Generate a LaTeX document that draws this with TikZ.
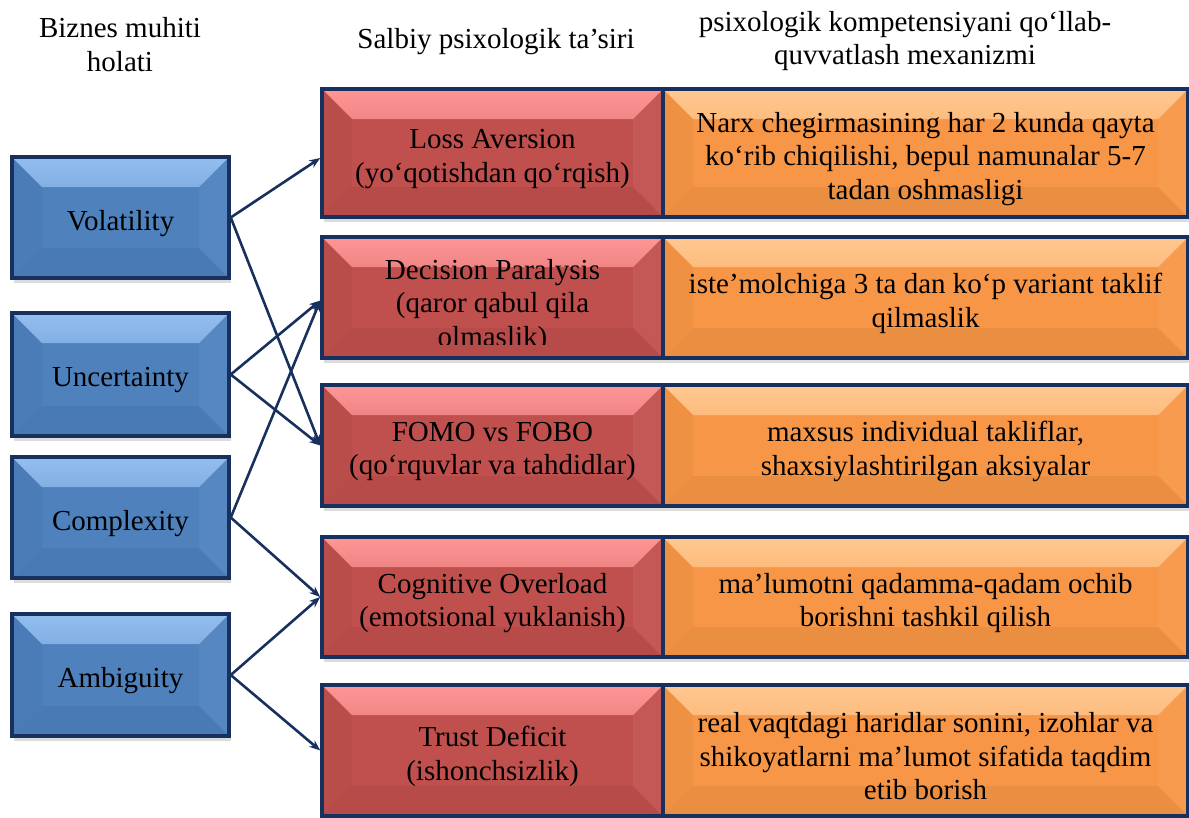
\documentclass[tikz,border=0pt]{standalone}
\usepackage{fontspec}
\setmainfont{Liberation Serif}
\usetikzlibrary{arrows.meta,shadows}
\definecolor{navy}{HTML}{17305E}
\definecolor{bluebase}{HTML}{4F81BD}
\definecolor{bluelight}{HTML}{93BEF0}
\definecolor{redbase}{HTML}{C0504D}
\definecolor{redlight}{HTML}{FF9696}
\definecolor{orbase}{HTML}{F79646}
\definecolor{orlight}{HTML}{FFC890}
\tikzset{
  every node/.style={font=\fontsize{29}{33.5}\selectfont, align=center, inner sep=0pt},
  bevelbox/.style 2 args={draw=navy, line width=3.5pt, fill=#1,
    drop shadow={opacity=.28, shadow xshift=2pt, shadow yshift=-5pt},
    path picture={
      \fill[top color=#2, middle color=#1!85!#2, bottom color=#1]
        (path picture bounding box.north west) -- (path picture bounding box.north east)
        -- ([shift={(-30pt,-30pt)}]path picture bounding box.north east)
        -- ([shift={(30pt,-30pt)}]path picture bounding box.north west) -- cycle;
      \fill[black, opacity=.05]
        (path picture bounding box.south west) -- (path picture bounding box.south east)
        -- ([shift={(-30pt,30pt)}]path picture bounding box.south east)
        -- ([shift={(30pt,30pt)}]path picture bounding box.south west) -- cycle;
      \fill[black, opacity=.03]
        (path picture bounding box.north west) -- ([shift={(30pt,-30pt)}]path picture bounding box.north west)
        -- ([shift={(30pt,30pt)}]path picture bounding box.south west) -- (path picture bounding box.south west) -- cycle;
      \fill[white, opacity=.05]
        (path picture bounding box.north east) -- ([shift={(-30pt,-30pt)}]path picture bounding box.north east)
        -- ([shift={(-30pt,30pt)}]path picture bounding box.south east) -- (path picture bounding box.south east) -- cycle;
    }},
  bluebox/.style={bevelbox={bluebase}{bluelight}, minimum width=217pt, minimum height=121pt},
  redbox/.style={bevelbox={redbase}{redlight}, minimum width=341pt},
  orbox/.style={bevelbox={orbase}{orlight}, minimum width=525pt},
  boxtext/.style={yshift=-6pt},
  link/.style={draw=navy, line width=2.6pt, -{Stealth[length=11pt,width=8.5pt]}},
  header/.style={}
}
\begin{document}
\begin{tikzpicture}[x=1pt,y=-1pt]
\useasboundingbox (0,0) rectangle (1189,817);

% headers
\node[header] (h1) at (120,44.5) {Biznes muhiti\\holati};
\node[header] (h2) at (496,42) {Salbiy psixologik ta’siri};
\node[header] (h3) at (905,41) {psixologik kompetensiyani qo‘llab-\\quvvatlash mexanizmi};

% left column
\node[bluebox] (vol) at (120.5,217.5) {};
\node[boxtext] (volt) at (vol) {Volatility};
\node[bluebox, minimum height=123pt] (unc) at (120.5,374.5) {};
\node[boxtext] (unct) at (unc) {Uncertainty};
\node[bluebox] (com) at (120.5,517.5) {};
\node[boxtext] (comt) at (com) {Complexity};
\node[bluebox, minimum height=122pt] (amb) at (120.5,675) {};
\node[boxtext] (ambt) at (amb) {Ambiguity};

% right rows
\node[orbox, minimum height=128pt] (o1) at (925.5,153) {};
\node[boxtext] (o1t) at (o1) {Narx chegirmasining har 2 kunda qayta\\ko‘rib chiqilishi, bepul namunalar 5-7\\tadan oshmasligi};
\node[redbox, minimum height=128pt] (la) at (492.5,153) {};
\node[boxtext] (lat) at (la) {Loss Aversion\\(yo‘qotishdan qo‘rqish)};

\node[orbox, minimum height=121pt] (o2) at (925.5,297.5) {};
\node[boxtext] (o2t) at (o2) {iste’molchiga 3 ta dan ko‘p variant taklif\\qilmaslik};
\node[redbox, minimum height=121pt] (dp) at (492.5,297.5) {};
\begin{scope}
  \clip (326,241) rectangle (659,344);
  \node (dpt) at (492.5,306) {Decision Paralysis\\(qaror qabul qila\\olmaslik)};
\end{scope}

\node[orbox, minimum height=121pt] (o3) at (925.5,445.5) {};
\node[boxtext] (o3t) at (o3) {maxsus individual takliflar,\\shaxsiylashtirilgan aksiyalar};
\node[redbox, minimum height=121pt] (fo) at (492.5,445.5) {};
\node[boxtext] (fot) at (fo) {FOMO vs FOBO\\(qo‘rquvlar va tahdidlar)};

\node[orbox, minimum height=120pt] (o4) at (925.5,597) {};
\node[boxtext] (o4t) at (o4) {ma’lumotni qadamma-qadam ochib\\borishni tashkil qilish};
\node[redbox, minimum height=120pt] (co) at (492.5,597) {};
\node[boxtext] (cot) at (co) {Cognitive Overload\\(emotsional yuklanish)};

\node[orbox, minimum height=131pt] (o5) at (925.5,750.5) {};
\node[boxtext] (o5t) at (o5) {real vaqtdagi haridlar sonini, izohlar va\\shikoyatlarni ma’lumot sifatida taqdim\\etib borish};
\node[redbox, minimum height=131pt] (td) at (492.5,750.5) {};
\node[boxtext] (tdt) at (td) {Trust Deficit\\(ishonchsizlik)};

% connectors
\draw[link] (vol.east) -- ([yshift=-5pt]la.west);
\draw[link] (vol.east) -- (fo.west);
\draw[link] (unc.east) -- ([yshift=-3pt]dp.west);
\draw[link] (unc.east) -- (fo.west);
\draw[link] (com.east) -- ([yshift=-3pt]dp.west);
\draw[link] (com.east) -- (co.west);
\draw[link] (amb.east) -- (co.west);
\draw[link] (amb.east) -- (td.west);
\end{tikzpicture}
\end{document}
